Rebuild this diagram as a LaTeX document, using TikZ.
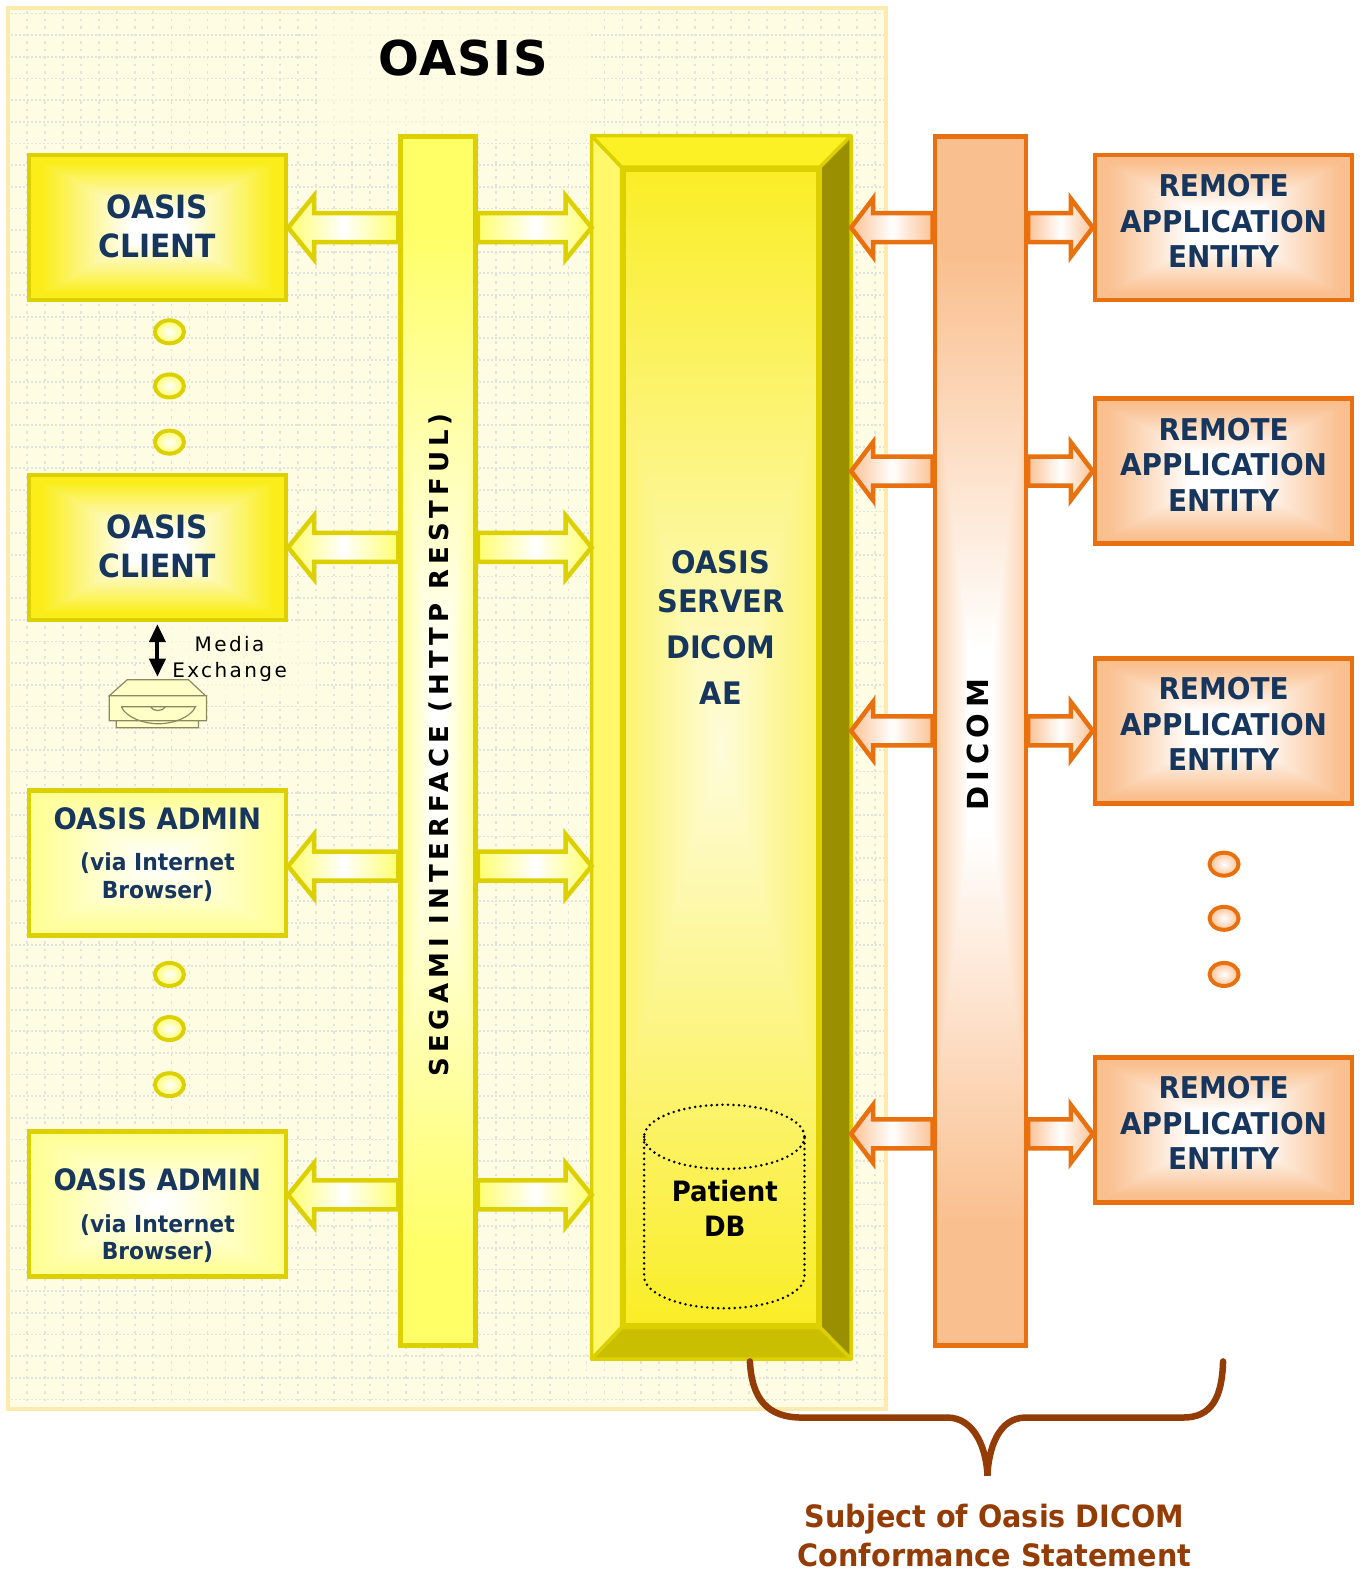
\documentclass[tikz,border=0pt]{standalone}
\usepackage{fontspec}
\usetikzlibrary{calc,shapes.geometric,arrows.meta}
\newfontfamily\boxfont[FakeStretch=0.93]{DejaVu Sans}
\newfontfamily\widefont[LetterSpace=12]{DejaVu Sans}
\newfontfamily\barfont[LetterSpace=19]{DejaVu Sans}
\newfontfamily\titlefont[LetterSpace=3]{DejaVu Sans}
\newcommand{\viasize}{\fontsize{23.5}{27.5}\selectfont}

\definecolor{gridcol}{HTML}{E2E2DE}
\definecolor{paper}{HTML}{FEFDE3}
\definecolor{paperedge}{HTML}{FCEAAE}
\definecolor{yline}{HTML}{DDD000}
\definecolor{oline}{HTML}{E8700F}
\definecolor{navy}{HTML}{17365D}
\definecolor{brown}{HTML}{943C06}
\definecolor{ylight}{HTML}{FFFF70}
\definecolor{olight}{HTML}{FBC295}
\definecolor{bevelleft}{HTML}{FFF86A}
\definecolor{beveltop}{HTML}{FBF125}
\definecolor{bevelright}{HTML}{9A8F00}
\definecolor{bevelbottom}{HTML}{C9BE00}
\definecolor{driveline}{HTML}{8A8A62}
\definecolor{drivefill}{HTML}{FFFFC8}

\newcommand{\newglow}[7]{%
  \pgfdeclarefunctionalshading{#1}{\pgfpoint{-50bp}{-50bp}}{\pgfpoint{50bp}{50bp}}{}{%
    abs exch abs #2 mul 2 copy lt {exch} if pop 25 div #3 sub #4 div
    dup 0 lt {pop 0} if dup 1 gt {pop 1} if
    dup dup #5 mul neg 1 add 3 1 roll #6 mul neg 1 add exch #7 mul neg 1 add}}
\newglow{clientglow}{1}{0.2}{0.7}{0.02}{0.07}{0.9}
\newglow{adminglow}{1}{0.05}{0.9}{0}{0}{0.42}
\newglow{remoteglow}{1}{0.25}{0.65}{0.02}{0.25}{0.44}
\newglow{segamiglow}{0.6}{0.1}{0.75}{0}{0}{0.6}
\newglow{serverglow}{0.6}{-0.2}{1.2}{0.02}{0.07}{0.85}
\newglow{dicomglow}{0.6}{0.15}{0.65}{0.02}{0.25}{0.44}

\tikzset{
    boxlabel/.style={font=\boxfont\bfseries\fontsize{32}{39}\selectfont, text=navy, align=center},
    clientbox/.style={boxlabel, draw=yline, line width=4.5pt, minimum width=257pt, minimum height=145pt, inner sep=0pt, text depth=3pt},
    adminbox/.style={clientbox, shading=adminglow},
    admintext/.style={boxlabel, font=\boxfont\bfseries\fontsize{29.5}{27.5}\selectfont},
    remotebox/.style={clientbox, draw=oline, shading=remoteglow, minimum width=257pt, text depth=13pt,
        font=\boxfont\bfseries\fontsize{30}{35.5}\selectfont},
    barbox/.style={draw=yline, line width=4.5pt, inner sep=0pt},
    yarrow/.style={blockarrow={32}{26}, draw=yline, line width=4.5pt, left color=ylight, right color=ylight, middle color=white},
    oarrow/.style={blockarrow={29}{22}, draw=oline, line width=4.5pt, left color=olight, right color=olight, middle color=white},
    blockarrow/.style 2 args={to path={
        let \p1=(\tikztostart), \p2=(\tikztotarget), \n1={ifthenelse(\x2>\x1,1,-1)} in
        (\x1,{\y1+14.5pt}) -- ({\x2-\n1*#2pt},{\y1+14.5pt}) -- ({\x2-\n1*#2pt},{\y1+#1pt}) -- (\x2,\y1)
        -- ({\x2-\n1*#2pt},{\y1-#1pt}) -- ({\x2-\n1*#2pt},{\y1-14.5pt}) -- (\x1,{\y1-14.5pt}) -- cycle}},
    ydot/.style={ellipse, draw=yline, line width=4pt, inner color=white, outer color=ylight, minimum width=29pt, minimum height=23pt, inner sep=0pt},
    odot/.style={ydot, draw=oline, outer color=olight},
    bevel/.style={draw=yline, line width=3.5pt, line join=round},
}

\begin{document}
\begin{tikzpicture}[x=1.0025pt, y=-1.0025pt]
        \useasboundingbox (0pt, 0pt) rectangle (1361pt, -1572pt);
        \draw[fill=paper, draw=paperedge, line width=4pt] (8, 8) rectangle (884, 1405);
        \foreach \x in {27,45,...,880} {
            \draw[gridcol, line width=1.8pt, dash pattern=on 2.5pt off 5pt] (\x, 11) -- (\x, 1402);
        }
        \foreach \i in {0,...,64} {
            \pgfmathsetmacro{\y}{13.5 + 21.6*\i}
            \draw[gridcol, line width=1.8pt, dash pattern=on 2pt off 2pt] (11, \y) -- (881, \y);
        }
        \fill[paper, opacity=.7] (318, 18) rectangle (590, 135);
        \fill[paper, opacity=.7] (145, 620) rectangle (315, 698);

        \node[font=\titlefont\bfseries\fontsize{48}{50}\selectfont] (title) at (462, 58) {OASIS};

        \node[clientbox, shading=clientglow] (client1) at (157, 227) {OASIS\\CLIENT};
        \node[clientbox, shading=clientglow] (client2) at (157, 546) {OASIS\\CLIENT};
        \node[adminbox] (admin1) at (157, 861) {};
        \node[adminbox] (admin2) at (157, 1201) {};
        \node[admintext] (admin1text) at (157, 852) {OASIS ADMIN\\[14pt]\viasize (via Internet\\\viasize Browser)};
        \node[admintext] (admin2text) at (157, 1213) {OASIS ADMIN\\[14pt]\viasize (via Internet\\\viasize Browser)};

        \foreach \y [count=\i] in {331,385,441,972,1026,1082} {
            \node[ydot] (ydot\i) at (169, \y) {};
        }
        \foreach \y [count=\i] in {862,916,972} {
            \node[odot] (odot\i) at (1221, \y) {};
        }

        \node[barbox, shading=segamiglow, minimum width=75pt, minimum height=1209pt] (segami) at (437, 739) {};
        \node[rotate=90, font=\barfont\bfseries\fontsize{26}{28}\selectfont] (segamitext) at (439, 743) {SEGAMI INTERFACE (HTTP RESTFUL)};

        \node[barbox, fill=yline, line join=round, minimum width=255pt, minimum height=1219pt] (server) at (719.5, 745.5) {};
        \node[barbox, shading=serverglow, minimum width=194pt, minimum height=1156pt] (face) at (719, 745.5) {};
        \filldraw[bevel, fill=bevelleft] (server.north west) -- (face.north west) -- (face.south west) -- (server.south west) -- cycle;
        \filldraw[bevel, fill=beveltop] (server.north west) -- (server.north east) -- (face.north east) -- (face.north west) -- cycle;
        \filldraw[bevel, fill=bevelright] (server.north east) -- (server.south east) -- (face.south east) -- (face.north east) -- cycle;
        \filldraw[bevel, fill=bevelbottom] (server.south west) -- (server.south east) -- (face.south east) -- (face.south west) -- cycle;
        \node[boxlabel, font=\boxfont\bfseries\fontsize{31}{39}\selectfont] (servertext) at (719, 626) {OASIS\\SERVER\\[7pt]DICOM\\[7pt]AE};

        \draw[black, line width=2.8pt, line cap=round, dash pattern=on 0pt off 5.5pt]
            (722.5, 1134) ellipse (80 and 32)
            (642.5, 1134) -- (642.5, 1273) arc (180:0:80 and 32) -- (802.5, 1134);
        \node[font=\boxfont\bfseries\fontsize{28}{35}\selectfont, align=center] (patient) at (723, 1205) {Patient\\DB};

        \node[barbox, draw=oline, shading=dicomglow, minimum width=91pt, minimum height=1209pt] (dicom) at (978, 739) {};
        \node[rotate=90, font=\barfont\bfseries\fontsize{29}{30}\selectfont] (dicomtext) at (975, 743) {DICOM};

        \node[remotebox] (remote1) at (1220.5, 227) {REMOTE\\APPLICATION\\ENTITY};
        \node[remotebox] (remote2) at (1220.5, 470) {REMOTE\\APPLICATION\\ENTITY};
        \node[remotebox] (remote3) at (1220.5, 729) {REMOTE\\APPLICATION\\ENTITY};
        \node[remotebox] (remote4) at (1220.5, 1127) {REMOTE\\APPLICATION\\ENTITY};

        \foreach \nd/\dy in {client1/0,client2/0,admin1/3,admin2/-9} {
            \coordinate (port) at ($(\nd.east)+(0,\dy)$);
            \draw[yarrow] (port -| segami.west) to (port);
            \draw[yarrow] (port -| segami.east) to (port -| server.west);
        }
        \foreach \nd/\dy in {remote1/0,remote2/0,remote3/0,remote4/4} {
            \coordinate (port) at ($(\nd.west)+(0,\dy)$);
            \draw[oarrow] (port -| dicom.west) to (port -| server.east);
            \draw[oarrow] (port -| dicom.east) to (port);
        }

        \coordinate (drive) at (157, 675);
        \draw[{Triangle[width=16pt,length=18pt]}-{Triangle[width=16pt,length=18pt]}, line width=4pt, shorten <=2pt] (client2.south) -- (drive);
        \filldraw[draw=driveline, fill=drivefill, line width=1.2pt]
            (127, 678) -- (188, 678) -- (205, 694) -- (109, 694) -- cycle
            (116, 719) rectangle (198, 726)
            (109, 694) rectangle (206, 719);
        \draw[driveline, line width=1.2pt]
            (121, 705) -- (195, 705) .. controls (190, 716) and (172, 722) .. (158, 722) .. controls (144, 722) and (126, 716) .. (121, 705)
            (150, 705) .. controls (152, 710) and (163, 710) .. (165, 705);
        \node[align=center, font=\widefont\fontsize{20}{26}\selectfont] (media) at (229, 657) {Media\\Exchange};

        \coordinate (braceleft) at (748, 1358);
        \coordinate (braceright) at (1220, 1358);
        \coordinate (bracetip) at (985, 1472);
        \draw[brown, line width=6.5pt, line cap=round]
            (braceleft) .. controls (750, 1395) and (765, 1414) .. (800, 1414) -- (945, 1414)
            .. controls (972, 1414) and (984, 1445) .. (bracetip)
            .. controls (986, 1445) and (996, 1414) .. (1023, 1414) -- (1180, 1414)
            .. controls (1208, 1414) and (1219, 1395) .. (braceright);
        \node[font=\boxfont\bfseries\fontsize{30.8}{39}\selectfont, text=brown, align=center] (subject) at (992, 1532) {Subject of Oasis DICOM\\Conformance Statement};
    \end{tikzpicture}
\end{document}
